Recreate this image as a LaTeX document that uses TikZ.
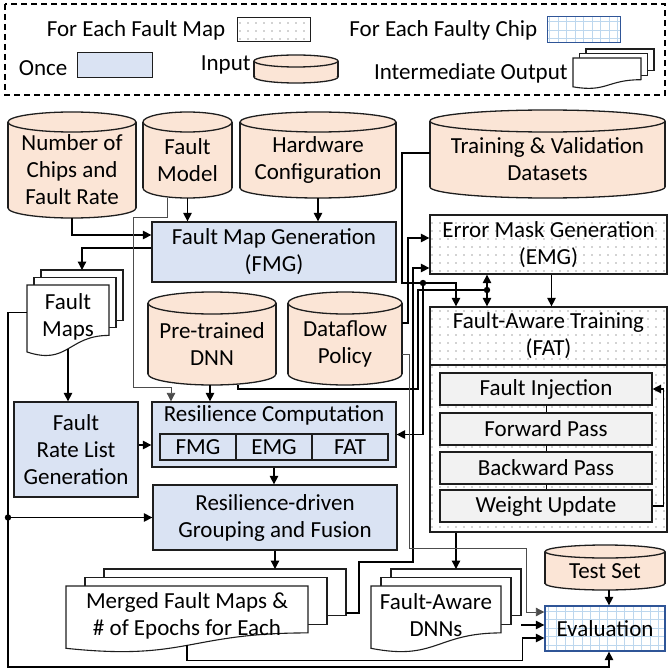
\documentclass[tikz,border=0pt]{standalone}
\usepackage{fontspec}
\setmainfont{Carlito}
\usepackage{tikz}
\usetikzlibrary{arrows.meta,positioning,patterns.meta}
\usepackage{xcolor}
\definecolor{onceblue}{RGB}{218,227,243}
\definecolor{inputfill}{RGB}{251,229,214}
\definecolor{stepgray}{RGB}{242,242,242}
\definecolor{chipblue}{RGB}{47,85,151}
\definecolor{gridblue}{RGB}{189,215,238}
\definecolor{boxline}{RGB}{30,30,30}

\newcommand{\bodysize}{\fontsize{23}{27}\selectfont}

\tikzset{
  box/.style={draw=boxline, line width=1.3pt, align=center, inner sep=2pt},
  oncebox/.style={box, fill=onceblue},
  mapbox/.style={box, pattern={Dots[distance=8pt,radius=0.7pt]}, pattern color=black!75},
  chipbox/.style={box, draw=chipblue, line width=1pt,
    path picture={\draw[gridblue,line width=0.5pt,step=8.5pt]
      (path picture bounding box.south west) grid (path picture bounding box.north east);}},
  stepbox/.style={box, fill=stepgray, line width=1.1pt, inner sep=0pt},
  legtext/.style={inner sep=1pt},
  cylline/.style={draw=boxline, line width=1.3pt},
  docline/.style={draw=boxline, line width=1.1pt},
  wire/.style={line width=1.3pt},
  conn/.style={wire, -{Triangle[length=8.5pt,width=8.5pt]}},
  thinconn/.style={line width=0.8pt, black!70, -{Triangle[length=8.5pt,width=8.5pt]}},
}

% input cylinder: name, cx, cy, w, h, cap radius, text
\newcommand{\inputcyl}[7]{%
  \pgfmathsetmacro\cyL{#2-#4/2}
  \pgfmathsetmacro\cyR{#2+#4/2}
  \pgfmathsetmacro\cyT{#3-#5/2+#6}
  \pgfmathsetmacro\cyB{#3+#5/2-#6}
  \pgfmathsetmacro\cyW{#4/2}
  \fill[inputfill] (\cyL,\cyT) rectangle (\cyR,\cyB);
  \fill[inputfill] (#2,\cyB) ellipse [x radius=\cyW, y radius=#6];
  \draw[cylline] (\cyL,\cyT) -- (\cyL,\cyB) (\cyR,\cyT) -- (\cyR,\cyB);
  \begin{scope}
    \clip ({\cyL-2},\cyB) rectangle ({\cyR+2},{\cyB+#6+2});
    \draw[cylline] (#2,\cyB) ellipse [x radius=\cyW, y radius=#6];
  \end{scope}
  \filldraw[cylline, fill=inputfill] (#2,\cyT) ellipse [x radius=\cyW, y radius=#6];
  \node[align=center, inner sep=0pt, minimum width=#4pt, minimum height={(#5-#6)*1pt}]
    (#1) at (#2,{#3+#6/2}) {#7};
}

% stacked output document: name, left, top, w, h, dx, dy, text
\newcommand{\outdoc}[8]{%
  \pgfmathsetmacro\dcM{#2+#4/2}
  \pgfmathsetmacro\dcR{#2+#4}
  \pgfmathsetmacro\dcYR{#3+0.70*#5}
  \pgfmathsetmacro\dcYL{#3+0.93*#5}
  \pgfmathsetmacro\dcYC{#3+1.12*#5}
  \foreach \k in {2,1}
    \filldraw[docline, fill=white] ({#2+\k*#6},{#3-\k*#7}) rectangle ({\dcR+\k*#6},{\dcYR-\k*#7});
  \filldraw[docline, fill=white] (#2,#3) -- (\dcR,#3) -- (\dcR,\dcYR)
    .. controls (\dcM,\dcYR) and (\dcM,\dcYC) .. (#2,\dcYL) -- cycle;
  \node[align=center, inner sep=0pt, minimum width=#4pt, minimum height={0.88*#5*1pt}]
    (#1) at (\dcM,{#3+0.44*#5}) {#8};
  \coordinate (#1-top) at ({\dcM+2*#6},{#3-2*#7});
  \coordinate (#1-right) at ({\dcR+2*#6},{#3+0.44*#5});
}

\begin{document}
\begin{tikzpicture}[x=1pt, y=-1pt, every node/.style={font=\bodysize}]
  \useasboundingbox (0,0) rectangle (669,671);

  % ── Legend ──────────────────────────────────────────────────────────────
  \draw[line width=1.1pt, dash pattern=on 6pt off 4pt] (5,4) rectangle (665,95);
  \node[mapbox, line width=1pt, minimum width=73pt, minimum height=24pt] (smap) at (273.5,30) {};
  \node[legtext, left=10pt of smap] (tmap) {For Each Fault Map};
  \node[chipbox, minimum width=73pt, minimum height=26pt] (schip) at (583.5,30) {};
  \node[legtext, left=8pt of schip] (tchip) {For Each Faulty Chip};
  \node[oncebox, line width=1pt, minimum width=75pt, minimum height=25pt] (sonce) at (114.5,65.5) {};
  \node[legtext, left=8pt of sonce, yshift=-3pt] (tonce) {Once};
  \inputcyl{sinput}{296}{69}{84}{28}{6}{}
  \node[legtext, left=2pt of sinput, yshift=7pt] (tinput) {Input};
  \outdoc{sout}{573}{58}{68}{31}{6.5}{4.5}{}
  \node[legtext, left=4pt of sout, yshift=-2pt] (tout) {Intermediate Output};

  % ── Inputs ──────────────────────────────────────────────────────────────
  \inputcyl{chips}{72}{165}{128}{106}{10}{Number of\\Chips and\\Fault Rate}
  \inputcyl{fmodel}{187.5}{155}{89}{86}{10}{Fault\\Model}
  \inputcyl{hwconf}{318}{155}{156}{86}{10}{Hardware\\Configuration}
  \inputcyl{data}{547.5}{154}{235}{88}{11}{Training \& Validation\\Datasets}
  \inputcyl{pretr}{212}{338.5}{128}{93}{11}{Pre-trained\\DNN}
  \inputcyl{dflow}{345}{338.5}{114}{93}{11}{Dataflow\\Policy}
  \inputcyl{testset}{605}{567.5}{120}{45}{6.5}{Test Set}

  % ── Steps ───────────────────────────────────────────────────────────────
  \node[oncebox, minimum width=244pt, minimum height=60pt] (fmg) at (274,252) {Fault Map Generation\\(FMG)};
  \node[oncebox, minimum width=124pt, minimum height=95pt] (frlg) at (76,449.5) {Fault\\Rate List\\Generation};
  \node[oncebox, minimum width=244pt, minimum height=65pt,
        label={[anchor=north, inner sep=1pt, yshift=-3pt]north:Resilience Computation}] (rescomp) at (274,434.5) {};
  \foreach \nm/\xx/\txt in {rfmg/198/FMG, remg/274/EMG, rfat/350/FAT}
    \node[oncebox, line width=1.1pt, inner sep=0pt, minimum width=76pt, minimum height=26pt] (\nm) at (\xx,447) {\txt};
  \node[oncebox, minimum width=244pt, minimum height=65pt] (rdgf) at (275,517.5) {Resilience-driven\\Grouping and Fusion};

  \node[mapbox, minimum width=237pt, minimum height=59pt] (emg) at (548.5,244.5) {Error Mask Generation\\(EMG)};
  \node[mapbox, minimum width=237pt, minimum height=167pt] (fatbody) at (548.5,448.5) {};
  \node[mapbox, minimum width=237pt, minimum height=58pt] (fathead) at (548.5,336) {Fault-Aware Training\\(FAT)};
  \foreach \nm/\yy/\txt in {fi/389/Fault Injection, fp/429/Forward Pass, bp/468/Backward Pass, wu/506/Weight Update}
    \node[stepbox, minimum width=212pt, minimum height=32pt] (\nm) at (546,\yy) {\txt};

  \node[chipbox, line width=1.3pt, minimum width=120pt, minimum height=45pt] (eval) at (605,628.5) {Evaluation};

  % ── Outputs ─────────────────────────────────────────────────────────────
  \outdoc{fmaps}{27}{285}{82}{72}{7}{7.5}{Fault\\Maps}
  \outdoc{merged}{66}{586}{242}{67}{19}{8.5}{Merged Fault Maps \&\\\# of Epochs for Each}
  \outdoc{fadnn}{371}{586}{130}{67}{10}{8.5}{Fault-Aware\\DNNs}

  % ── Connectors ──────────────────────────────────────────────────────────
  \coordinate (lbus) at (8,517.5);
  \coordinate (dsj) at (423,283);
  \coordinate (pj) at (487,290);

  \draw[conn] (chips.south) |- ([yshift=17pt]fmg.west);
  \draw[conn] (fmodel.south) -- (fmodel.south |- fmg.north);
  \draw[conn] (hwconf.south) -- (hwconf.south |- fmg.north);
  \draw[conn] ([yshift=4pt]fmg.west) -| (fmaps-top);
  \draw[conn] (fmaps.south) -- (fmaps.south |- frlg.north);
  \draw[conn] ([yshift=4.5pt]frlg.east) -- ([yshift=4.5pt]frlg.east -| rescomp.west);
  \draw[thinconn] ([xshift=-20pt]fmodel.south) -- ++(0,19) -| (133,387) -| ([xshift=-103pt]rescomp.north);
  \draw[conn] ([xshift=-2pt]pretr.south) -- ([xshift=-2pt]pretr.south |- rescomp.north);
  \draw[conn] (rescomp.south) -- (rescomp.south |- rdgf.north);
  \draw[conn] (rdgf.south) -- (rdgf.south |- merged-top);

  % fault maps loop round the left edge
  \draw[conn] ([yshift=4pt]fmaps.west) -| (lbus) -- (8,667) -| ([xshift=4pt]eval.south);
  \draw[conn] (lbus) -- (rdgf.west);
  \fill (lbus) circle (3.2pt);

  % datasets, pre-trained DNN, dataflow into EMG / FAT
  \draw[conn] ([yshift=6.5pt]data.west) -| (402,283) -| ([xshift=-92.5pt]fathead.north);
  \draw[conn] (dsj) |- (rescomp.east);
  \fill (dsj) circle (3.2pt);
  \draw[wire] ([xshift=26pt]pretr.south) |- (418,389) |- (pj);
  \draw[conn] (pj) -- (pj |- emg.south);
  \draw[conn] (pj) -- (pj |- fathead.north);
  \fill (pj) circle (3.2pt);
  \draw[conn] ([yshift=21pt]dflow.east) -| (408,238) -- ([yshift=6.5pt]emg.west);
  \draw[conn] ([yshift=2.5pt]merged-right) -| (359,562) -| (413,268) -- ([yshift=-23.5pt]emg.west);
  \draw[conn] ([xshift=3pt]emg.south) -- ([xshift=3pt]emg.south |- fathead.north);

  % training loop
  \draw[line width=0.8pt] (fi) -- (fp) (fp) -- (bp) (bp) -- (wu);
  \draw[conn] (wu.east) -- ++(11,0) |- (fi.east);

  % into evaluation
  \draw[conn] (fatbody.south -| fadnn-top) -- (fadnn-top);
  \draw[conn] ([xshift=4pt]testset.south) -- ([xshift=4pt]testset.south |- eval.north);
  \draw[thinconn] ([yshift=-10pt]dflow.east) -| (409,548) -| ([xshift=-18pt,yshift=16.5pt]eval.west) -- ([yshift=16.5pt]eval.west);
  \draw[conn] ([yshift=-9.5pt]fadnn-right) -- ([yshift=-9.5pt]fadnn-right -| eval.west);
  \draw[conn] (merged.south) -- ++(0,15) -| ([xshift=-22pt,yshift=-9.5pt]eval.west) -- ([yshift=-9.5pt]eval.west);
\end{tikzpicture}
\end{document}
